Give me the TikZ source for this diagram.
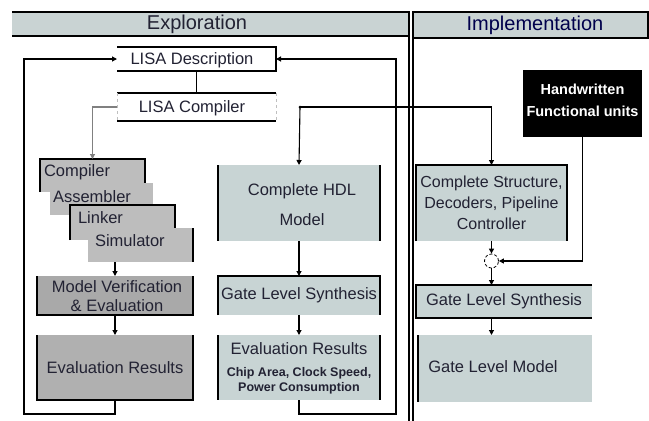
\documentclass[tikz,border=0pt]{standalone}
\usepackage{fontspec}
\setmainfont{Liberation Sans}
\usetikzlibrary{arrows.meta}
\definecolor{hdrc}{HTML}{C9D3D3}
\definecolor{blc}{HTML}{C8D4D4}
\definecolor{gr1}{HTML}{BDBDBD}
\definecolor{gr2}{HTML}{A9A9A9}
\definecolor{gr3}{HTML}{B0B0B0}
\definecolor{txc}{HTML}{222233}
\tikzset{
  box/.style={rectangle,inner sep=0pt,outer sep=0pt,align=center,text=txc,font=\fontsize{16.5}{19}\selectfont},
  lbl/.style={inner sep=0pt,outer sep=0pt,text=txc,font=\fontsize{16.5}{19}\selectfont},
  bd/.style={line width=1.6pt,black},
  ln/.style={line width=1.1pt,black},
  arr/.style={ln,-{Triangle[length=5pt,width=5pt]}},
  hdr/.style={box,fill=hdrc,font=\fontsize{20}{22}\selectfont}
}
\begin{document}
\begin{tikzpicture}[x=1pt,y=-1pt]
\useasboundingbox (0,0) rectangle (649,421);
\fill[white] (0,0) rectangle (649,421);
% headers
\node[hdr,minimum width=397pt,minimum height=24pt] (exphdr) at (210.5,24) {};
\node[lbl,font=\fontsize{20}{22}\selectfont] (expt) at (197,24) {Exploration};
\draw[bd] (exphdr.north west) -- (exphdr.north east);
\draw[bd] (exphdr.south west) -- (exphdr.south east);
\node[hdr,minimum width=235pt,minimum height=26pt] (imphdr) at (530.5,25) {};
\node[lbl,font=\fontsize{20}{22}\selectfont,text={blue!30!black}] (impt) at (535,25) {Implementation};
\draw[bd] (imphdr.north west) rectangle (imphdr.south east);
\draw[bd] (409,11.2) -- (409,421);
\draw[bd] (413,11.2) -- (413,421);
% LISA
\node[box,fill=white,minimum width=159pt,minimum height=24pt] (lisadesc) at (196.5,59) {};
\node[lbl] (lisadesct) at (192,60) {LISA Description};
\draw[bd] (lisadesc.north west) -- (lisadesc.north east) -- (lisadesc.south east) -- (lisadesc.south west);
\node[box,fill=white,minimum width=159pt,minimum height=28pt] (lisacomp) at (196.5,107) {};
\node[lbl] (lisacompt) at (192,108) {LISA Compiler};
\draw[bd] (lisacomp.north west) -- (lisacomp.north east);
\draw[bd] (lisacomp.south west) -- (lisacomp.south east);
\draw[gray!50,dashed] (lisacomp.north west) -- (lisacomp.south west);
\draw[gray!50,dashed] (lisacomp.north east) -- (lisacomp.south east);
\draw[ln] (lisadesc.south) -- (lisacomp.north);
% tool stack
\node[box,fill=gr1,minimum width=105pt,minimum height=33pt] (comp) at (92.5,175.5) {};
\node[lbl,anchor=west] (compt) at (44,172) {Compiler};
\node[box,fill=gr1,minimum width=103pt,minimum height=32pt] (asm) at (101.5,199) {};
\node[lbl,anchor=west] (asmt) at (53,197) {Assembler};
\node[box,fill=gr1,minimum width=105pt,minimum height=35pt] (link) at (122.5,222.5) {};
\node[lbl,anchor=west] (linkt) at (78,218) {Linker};
\node[box,fill=gr1,minimum width=105pt,minimum height=34pt] (sim) at (140.5,245) {};
\node[lbl,anchor=west] (simt) at (95,241) {Simulator};
\draw[bd] (comp.south west) -- (comp.north west) -- (comp.north east) -- (comp.north east |- asm.north);
\draw[bd] (link.south west) -- (link.north west) -- (link.north east) -- (link.north east |- sim.north);
\draw[bd] (sim.north east) -- (sim.south east);
% left column
\node[box,fill=gr2,minimum width=156pt,minimum height=39pt] (modver) at (115,295.5) {};
\node[lbl,align=center] (modvert) at (117,296) {Model Verification\\\& Evaluation};
\draw[bd] (modver.north west) -- (modver.south west) -- (modver.south east) -- (modver.north east);
\node[box,fill=gr3,minimum width=156pt,minimum height=65pt] (evalL) at (115,367.5) {Evaluation Results};
\draw[bd] (evalL.north west) -- (evalL.south west) -- (evalL.south east) -- (evalL.north east);
% middle column
\node[box,fill=blc,minimum width=162pt,minimum height=76pt] (hdl) at (299,203) {};
\node[lbl,align=center,font=\fontsize{16.5}{30}\selectfont] (hdlt) at (302,205) {Complete HDL\\Model};
\draw[bd] (hdl.north west) -- (hdl.south west);
\draw[bd] (hdl.north east) -- (hdl.south east);
\node[box,fill=blc,minimum width=162pt,minimum height=39pt] (glsM) at (299,295.5) {Gate Level Synthesis};
\draw[bd] (glsM.south west) -- (glsM.north west) -- (glsM.north east) -- (glsM.south east);
\node[box,fill=blc,minimum width=162pt,minimum height=65pt] (evalM) at (299,367.5) {};
\node[lbl] (evalMt) at (299,349) {Evaluation Results};
\node[lbl,align=center,font=\fontsize{12.5}{15}\selectfont\bfseries] (evalMs) at (299,381) {Chip Area, Clock Speed,\\Power Consumption};
\draw[bd] (evalM.north west) -- (evalM.south west);
\draw[bd] (evalM.north east) -- (evalM.south east);
% implementation column
\node[box,fill=black,text=white,minimum width=119pt,minimum height=67pt] (hand) at (582.5,103.5) {};
\node[lbl,align=center,text=white,font=\fontsize{14.5}{22}\selectfont\bfseries] (handt) at (582.5,100) {Handwritten\\Functional units};
\node[box,fill=blc,minimum width=151pt,minimum height=76pt,font=\fontsize{16}{21}\selectfont] (cstruct) at (491.5,203) {Complete Structure,\\Decoders, Pipeline\\Controller};
\draw[bd] (cstruct.south west) -- (cstruct.north west) -- (cstruct.north east) -- (cstruct.south east);
\node[circle,draw=black,densely dashed,line width=0.8pt,fill=white,minimum size=14pt,inner sep=0pt] (circ) at (491.5,261) {};
\node[box,fill=blc,minimum width=176pt,minimum height=33pt] (glsR) at (504,301.5) {Gate Level Synthesis};
\draw[bd] (glsR.north east) -- (glsR.north west) -- (glsR.south west) -- (glsR.south east);
\node[box,fill=blc,minimum width=174pt,minimum height=67pt] (glmR) at (505,368.5) {};
\node[lbl] (glmRt) at (493,367) {Gate Level Model};
\draw[bd] (glmR.north west) -- (glmR.south west);
% connectors
\coordinate (j) at (300,107);
\fill (j) circle (1.5pt);
\draw[arr] (j) -- (hdl.north);
\draw[arr] (j) -| (cstruct.north);
\draw[arr,gray] (lisacomp.west) -| (comp.north);
\draw[arr] (modver.north |- sim.south) -- (modver.north);
\draw[arr] (modver.south) -- (evalL.north);
\draw[arr] (hdl.south) -- (glsM.north);
\draw[arr] (glsM.south) -- (evalM.north);
\coordinate (bl) at (24,414);
\coordinate (br) at (396,414);
\draw[arr] (evalL.south) |- (bl) |- (lisadesc.west);
\draw[arr] (evalM.south) |- (br) |- (lisadesc.east);
\draw[arr] (hand.south) |- (circ.east);
\draw[arr] (cstruct.south) -- (circ.north);
\draw[arr] (circ.south) -- (circ.south |- glsR.north);
\draw[arr] (circ.south |- glsR.south) -- (circ.south |- glmR.north);
\end{tikzpicture}
\end{document}
